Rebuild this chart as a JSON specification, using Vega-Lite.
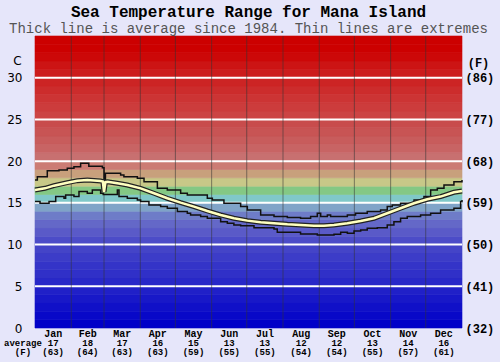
{
  "$schema": "https://vega.github.io/schema/vega-lite/v6.json",
  "width": 427,
  "height": 292,
  "autosize": {"type": "none"},
  "padding": {"left": 35, "top": 36, "right": 38, "bottom": 34},
  "background": "#e6e6fa",
  "title": {
    "text": "Sea Temperature Range for Mana Island",
    "subtitle": "Thick line is average since 1984. Thin lines are extremes",
    "font": "Liberation Mono", "fontSize": 16, "fontWeight": "bold", "color": "#000",
    "subtitleFont": "Liberation Mono", "subtitleFontSize": 14, "subtitleColor": "#555",
    "subtitlePadding": 2, "offset": 0, "anchor": "middle", "frame": "group"
  },
  "config": {"view": {"stroke": null}},
  "datasets": {
    "bands": [
      {"t":0,"t2":1},{"t":1,"t2":2},{"t":2,"t2":3},{"t":3,"t2":4},{"t":4,"t2":5},
      {"t":5,"t2":6},{"t":6,"t2":7},{"t":7,"t2":8},{"t":8,"t2":9},{"t":9,"t2":10},
      {"t":10,"t2":11},{"t":11,"t2":12},{"t":12,"t2":13},{"t":13,"t2":14},{"t":14,"t2":15},
      {"t":15,"t2":16},{"t":16,"t2":17},{"t":17,"t2":18},{"t":18,"t2":19},{"t":19,"t2":20},
      {"t":20,"t2":21},{"t":21,"t2":22},{"t":22,"t2":23},{"t":23,"t2":24},{"t":24,"t2":25},
      {"t":25,"t2":26},{"t":26,"t2":27},{"t":27,"t2":28},{"t":28,"t2":29},{"t":29,"t2":30},
      {"t":30,"t2":31},{"t":31,"t2":32},{"t":32,"t2":33},{"t":33,"t2":34},{"t":34,"t2":35}
    ],
    "hl": [{"v":5},{"v":10},{"v":15},{"v":20},{"v":25},{"v":30}],
    "vl": [{"d":31},{"d":59},{"d":90},{"d":120},{"d":151},{"d":181},{"d":212},{"d":243},{"d":273},{"d":304},{"d":334}],
    "ext": [
      {"s":"max","day":0,"v":17.74},{"s":"max","day":2,"v":18.14},{"s":"max","day":10.5,"v":18.86},
      {"s":"max","day":20.5,"v":18.94},{"s":"max","day":27.6,"v":19.14},{"s":"max","day":33.3,"v":19.34},
      {"s":"max","day":39,"v":19.74},{"s":"max","day":46,"v":19.4},{"s":"max","day":57.6,"v":19.22},
      {"s":"max","day":59,"v":16.75},{"s":"max","day":60.2,"v":18.54},{"s":"max","day":73.2,"v":18.34},
      {"s":"max","day":76,"v":18.14},{"s":"max","day":87.5,"v":17.95},{"s":"max","day":93.2,"v":17.54},
      {"s":"max","day":104.6,"v":16.75},{"s":"max","day":113.1,"v":16.55},{"s":"max","day":124.5,"v":16.15},
      {"s":"max","day":130.2,"v":15.95},{"s":"max","day":147.3,"v":15.55},{"s":"max","day":151.6,"v":15.35},
      {"s":"max","day":161.5,"v":14.95},{"s":"max","day":175.8,"v":14.55},{"s":"max","day":181.5,"v":14.15},
      {"s":"max","day":192.9,"v":13.55},{"s":"max","day":204.3,"v":13.35},{"s":"max","day":215.7,"v":13.23},
      {"s":"max","day":227,"v":13.15},{"s":"max","day":235.6,"v":13.35},{"s":"max","day":241.3,"v":13.75},
      {"s":"max","day":244.2,"v":13.35},{"s":"max","day":249.9,"v":13.55},{"s":"max","day":252.7,"v":13.35},
      {"s":"max","day":267,"v":13.55},{"s":"max","day":274,"v":13.75},{"s":"max","day":284,"v":13.95},
      {"s":"max","day":295.4,"v":14.15},{"s":"max","day":301.1,"v":14.55},{"s":"max","day":305.4,"v":14.75},
      {"s":"max","day":312.5,"v":14.95},{"s":"max","day":324,"v":15.35},{"s":"max","day":332.5,"v":15.75},
      {"s":"max","day":338.2,"v":16.55},{"s":"max","day":343.9,"v":16.75},{"s":"max","day":349.6,"v":17.14},
      {"s":"max","day":358.1,"v":17.54},{"s":"max","day":365,"v":17.74},
      {"s":"min","day":0,"v":15.15},{"s":"min","day":4.3,"v":14.95},{"s":"min","day":12,"v":15.15},
      {"s":"min","day":17.7,"v":15.75},{"s":"min","day":24.8,"v":15.55},{"s":"min","day":26.2,"v":15.95},
      {"s":"min","day":33.3,"v":15.75},{"s":"min","day":37.6,"v":16.35},{"s":"min","day":44.7,"v":16.15},
      {"s":"min","day":49,"v":16.55},{"s":"min","day":56.1,"v":16.15},{"s":"min","day":58.3,"v":16.0},
      {"s":"min","day":70.4,"v":16.55},{"s":"min","day":71.8,"v":15.75},{"s":"min","day":78.9,"v":15.55},
      {"s":"min","day":87.5,"v":15.35},{"s":"min","day":90.3,"v":15.15},{"s":"min","day":97.4,"v":14.75},
      {"s":"min","day":107.4,"v":14.55},{"s":"min","day":113.1,"v":14.35},{"s":"min","day":121.7,"v":13.95},
      {"s":"min","day":130.2,"v":13.75},{"s":"min","day":133,"v":13.55},{"s":"min","day":141.6,"v":13.35},
      {"s":"min","day":147.3,"v":13.15},{"s":"min","day":158.7,"v":12.75},{"s":"min","day":164.4,"v":12.55},
      {"s":"min","day":170,"v":12.35},{"s":"min","day":175.8,"v":12.27},{"s":"min","day":187.2,"v":12.03},
      {"s":"min","day":204.3,"v":11.87},{"s":"min","day":207.1,"v":11.47},{"s":"min","day":227,"v":11.27},
      {"s":"min","day":241.3,"v":11.15},{"s":"min","day":255.6,"v":11.23},{"s":"min","day":261.3,"v":11.47},
      {"s":"min","day":267,"v":11.35},{"s":"min","day":272.7,"v":11.63},{"s":"min","day":278.4,"v":11.75},
      {"s":"min","day":284,"v":11.95},{"s":"min","day":292.6,"v":12.03},{"s":"min","day":301.1,"v":12.35},
      {"s":"min","day":306.8,"v":12.75},{"s":"min","day":312.5,"v":13.15},{"s":"min","day":318.2,"v":13.35},
      {"s":"min","day":329.6,"v":13.55},{"s":"min","day":338.2,"v":13.75},{"s":"min","day":346.7,"v":14.15},
      {"s":"min","day":358.1,"v":14.35},{"s":"min","day":363.8,"v":15.15},{"s":"min","day":365,"v":15.35}
    ],
    "avg": [
      {"day":0,"v":16.55},{"day":8.5,"v":16.74},{"day":16.2,"v":17.06},{"day":27.6,"v":17.42},
      {"day":36.2,"v":17.66},{"day":44.7,"v":17.74},{"day":56.1,"v":17.62},{"day":58,"v":17.55},
      {"day":59,"v":16.3},{"day":60.2,"v":17.5},{"day":62,"v":17.54},{"day":70.4,"v":17.34},
      {"day":78.9,"v":17.14},{"day":90.3,"v":16.74},{"day":101.7,"v":16.15},{"day":113.1,"v":15.55},
      {"day":124.5,"v":15.03},{"day":135.9,"v":14.55},{"day":147.3,"v":14.03},{"day":158.7,"v":13.55},
      {"day":170,"v":13.15},{"day":181.5,"v":12.87},{"day":192.9,"v":12.67},{"day":204.3,"v":12.55},
      {"day":215.7,"v":12.43},{"day":227,"v":12.35},{"day":238.5,"v":12.27},{"day":247,"v":12.27},
      {"day":255.6,"v":12.35},{"day":267,"v":12.55},{"day":278.4,"v":12.83},{"day":289.8,"v":13.15},
      {"day":301.1,"v":13.75},{"day":312.5,"v":14.35},{"day":324,"v":14.95},{"day":335.3,"v":15.43},
      {"day":346.7,"v":15.75},{"day":358.1,"v":16.27},{"day":365,"v":16.43}
    ],
    "months": [
      {"m":"","mid":-10.3,"c":"average","f":"(F)"},
      {"m":"Jan","mid":15.5,"c":"17","f":"(63)"},
      {"m":"Feb","mid":45,"c":"18","f":"(64)"},
      {"m":"Mar","mid":74.5,"c":"17","f":"(63)"},
      {"m":"Apr","mid":105,"c":"16","f":"(63)"},
      {"m":"May","mid":135.5,"c":"15","f":"(59)"},
      {"m":"Jun","mid":166,"c":"13","f":"(55)"},
      {"m":"Jul","mid":196.5,"c":"13","f":"(55)"},
      {"m":"Aug","mid":227.5,"c":"12","f":"(54)"},
      {"m":"Sep","mid":258,"c":"12","f":"(54)"},
      {"m":"Oct","mid":288.5,"c":"13","f":"(55)"},
      {"m":"Nov","mid":319,"c":"14","f":"(57)"},
      {"m":"Dec","mid":349.5,"c":"16","f":"(61)"}
    ]
  },
  "layer": [
    {
      "data": {"name": "bands"},
      "mark": {"type": "rect", "strokeWidth": 0.6},
      "encoding": {
        "x": {"datum": 0, "type": "quantitative", "scale": {"domain": [0, 365], "nice": false, "zero": false}, "axis": null},
        "x2": {"datum": 365},
        "y": {"field": "t", "type": "quantitative", "scale": {"domain": [0, 35], "nice": false, "zero": false},
          "axis": {"orient": "left", "values": [0,5,10,15,20,25,30], "ticks": false, "tickSize": 0, "domain": false, "grid": false,
            "labelFont": "DejaVu Sans", "labelFontSize": 12, "labelColor": "#000", "labelPadding": 13, "labelBaseline": "middle",
            "title": "C", "titleFont": "DejaVu Sans", "titleFontSize": 12, "titleFontWeight": "normal", "titleColor": "#000",
            "titleAngle": 0, "titleAlign": "center", "titleBaseline": "middle", "titleX": -18, "titleY": 24}},
        "y2": {"field": "t2"},
        "fill": {"field": "t", "type": "ordinal", "legend": null,
          "scale": {"domain": [0,1,2,3,4,5,6,7,8,9,10,11,12,13,14,15,16,17,18,19,20,21,22,23,24,25,26,27,28,29,30,31,32,33,34],
            "range": ["#0000c8","#0808c8","#1010c8","#1818c8","#2020c8","#2828c8","#3030c8","#3434c8","#3c3cc8","#4444c8",
                      "#4c4cc8","#5a5ac8","#6468c8","#6e7cc8","#80a4c8","#80c8c8","#84c884","#c8c888","#c8a07c","#cc7c74",
                      "#c87070","#c86464","#c85c5c","#c85454","#c84c4c","#cc4444","#cc3c3c","#cc3434","#cc2c2c","#cc2424",
                      "#cc1c1c","#cc1414","#cc0808","#cc0000","#cc0000"]}},
        "stroke": {"field": "t", "type": "ordinal", "legend": null,
          "scale": {"domain": [0,1,2,3,4,5,6,7,8,9,10,11,12,13,14,15,16,17,18,19,20,21,22,23,24,25,26,27,28,29,30,31,32,33,34],
            "range": ["#0000c8","#0808c8","#1010c8","#1818c8","#2020c8","#2828c8","#3030c8","#3434c8","#3c3cc8","#4444c8",
                      "#4c4cc8","#5a5ac8","#6468c8","#6e7cc8","#80a4c8","#80c8c8","#84c884","#c8c888","#c8a07c","#cc7c74",
                      "#c87070","#c86464","#c85c5c","#c85454","#c84c4c","#cc4444","#cc3c3c","#cc3434","#cc2c2c","#cc2424",
                      "#cc1c1c","#cc1414","#cc0808","#cc0000","#cc0000"]}}
      }
    },
    {
      "data": {"name": "hl"},
      "mark": {"type": "rule", "color": "#ffffff", "strokeWidth": 2},
      "encoding": {
        "y": {"field": "v", "type": "quantitative",
          "axis": {"orient": "right", "values": [0,5,10,15,20,25,30], "ticks": false, "tickSize": 0, "domain": false, "grid": false,
            "labelExpr": "'(' + format(datum.value * 9 / 5 + 32, 'd') + ')'",
            "labelFont": "Liberation Mono", "labelFontSize": 12, "labelFontWeight": "bold", "labelColor": "#000", "labelPadding": 3, "labelBaseline": "middle",
            "title": "(F)", "titleFont": "Liberation Mono", "titleFontSize": 12, "titleFontWeight": "bold", "titleColor": "#000",
            "titleAngle": 0, "titleAlign": "center", "titleBaseline": "middle", "titleX": 16, "titleY": 26}}
      }
    },
    {
      "data": {"name": "vl"},
      "mark": {"type": "rule", "color": "#333333", "opacity": 0.55, "strokeWidth": 1},
      "encoding": {"x": {"field": "d", "type": "quantitative", "axis": null}}
    },
    {
      "data": {"name": "ext"},
      "mark": {"type": "line", "interpolate": "step-after", "color": "#111111", "strokeWidth": 1.5},
      "encoding": {
        "x": {"field": "day", "type": "quantitative", "axis": null},
        "y": {"field": "v", "type": "quantitative", "axis": null},
        "detail": {"field": "s"}
      }
    },
    {
      "data": {"name": "avg"},
      "mark": {"type": "line", "color": "#222222", "strokeWidth": 5},
      "encoding": {
        "x": {"field": "day", "type": "quantitative", "axis": null},
        "y": {"field": "v", "type": "quantitative", "axis": null}
      }
    },
    {
      "data": {"name": "avg"},
      "mark": {"type": "line", "color": "#ffffc0", "strokeWidth": 2.5},
      "encoding": {
        "x": {"field": "day", "type": "quantitative", "axis": null},
        "y": {"field": "v", "type": "quantitative", "axis": null}
      }
    },
    {
      "data": {"name": "months"},
      "mark": {"type": "text", "font": "Liberation Mono", "fontSize": 10, "fontWeight": "bold", "color": "#000", "baseline": "middle", "align": "center"},
      "encoding": {
        "x": {"field": "mid", "type": "quantitative", "axis": null},
        "y": {"datum": -0.75, "type": "quantitative", "axis": null},
        "text": {"field": "m"}
      }
    },
    {
      "data": {"name": "months"},
      "mark": {"type": "text", "font": "Liberation Mono", "fontSize": 9, "fontWeight": "bold", "color": "#000", "baseline": "middle", "align": "center"},
      "encoding": {
        "x": {"field": "mid", "type": "quantitative", "axis": null},
        "y": {"datum": -1.82, "type": "quantitative", "axis": null},
        "text": {"field": "c"}
      }
    },
    {
      "data": {"name": "months"},
      "mark": {"type": "text", "font": "Liberation Mono", "fontSize": 9, "fontWeight": "bold", "color": "#000", "baseline": "middle", "align": "center"},
      "encoding": {
        "x": {"field": "mid", "type": "quantitative", "axis": null},
        "y": {"datum": -2.9, "type": "quantitative", "axis": null},
        "text": {"field": "f"}
      }
    }
  ],
  "resolve": {"axis": {"y": "independent"}}
}
